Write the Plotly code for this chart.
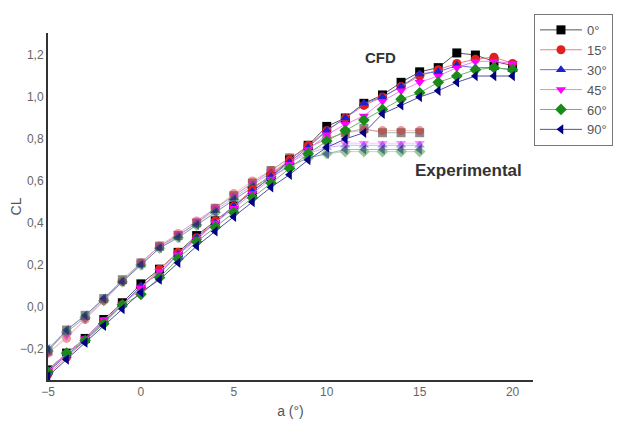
import plotly.graph_objects as go

alpha_cfd = list(range(-5, 21))
alpha_exp = list(range(-5, 16))

labels = ["0°", "15°", "30°", "45°", "60°", "90°"]
colors = ["#000000", "#e02020", "#2020d0", "#ff00ff", "#1a8a1a", "#000080"]
line_colors = ["#555555", "#e88080", "#7070d8", "#f080f0", "#70b070", "#5050a0"]
symbols = ["square", "circle", "triangle-up", "triangle-down", "diamond", "triangle-left"]

cfd_0 = [-0.30, -0.22, -0.15, -0.06, 0.02, 0.11, 0.18, 0.26, 0.34, 0.41, 0.48, 0.55, 0.62, 0.70, 0.77, 0.86, 0.90, 0.97, 1.01, 1.07, 1.12, 1.14, 1.21, 1.20, 1.17, 1.15]
cfd_15 = [-0.32, -0.24, -0.16, -0.07, 0.01, 0.09, 0.18, 0.26, 0.33, 0.41, 0.48, 0.56, 0.63, 0.70, 0.77, 0.84, 0.90, 0.96, 1.00, 1.05, 1.10, 1.13, 1.16, 1.18, 1.19, 1.16]
cfd_30 = [-0.31, -0.23, -0.16, -0.07, 0.01, 0.10, 0.16, 0.25, 0.33, 0.40, 0.48, 0.55, 0.62, 0.69, 0.76, 0.84, 0.90, 0.97, 1.00, 1.05, 1.11, 1.12, 1.15, 1.14, 1.14, 1.13]
cfd_45 = [-0.30, -0.22, -0.15, -0.06, 0.01, 0.09, 0.17, 0.25, 0.32, 0.40, 0.47, 0.54, 0.61, 0.68, 0.75, 0.82, 0.87, 0.91, 0.98, 1.03, 1.07, 1.10, 1.14, 1.17, 1.17, 1.16]
cfd_60 = [-0.31, -0.22, -0.16, -0.08, 0.01, 0.06, 0.14, 0.23, 0.31, 0.38, 0.45, 0.52, 0.59, 0.66, 0.73, 0.79, 0.84, 0.89, 0.94, 0.99, 1.02, 1.07, 1.10, 1.13, 1.14, 1.13]
cfd_90 = [-0.33, -0.25, -0.17, -0.09, -0.01, 0.07, 0.13, 0.21, 0.29, 0.36, 0.43, 0.50, 0.57, 0.63, 0.70, 0.76, 0.80, 0.83, 0.92, 0.96, 1.00, 1.03, 1.07, 1.10, 1.10, 1.10]

exp_0 = [-0.21, -0.11, -0.04, 0.04, 0.13, 0.21, 0.29, 0.34, 0.40, 0.47, 0.53, 0.59, 0.65, 0.71, 0.76, 0.80, 0.83, 0.85, 0.83, 0.83, 0.83]
exp_15 = [-0.22, -0.15, -0.06, 0.03, 0.12, 0.21, 0.29, 0.35, 0.41, 0.47, 0.54, 0.60, 0.65, 0.71, 0.76, 0.80, 0.83, 0.84, 0.84, 0.84, 0.84]
exp_30 = [-0.20, -0.12, -0.05, 0.04, 0.12, 0.20, 0.28, 0.34, 0.40, 0.46, 0.52, 0.58, 0.64, 0.69, 0.73, 0.76, 0.77, 0.77, 0.77, 0.77, 0.77]
exp_45 = [-0.22, -0.14, -0.06, 0.03, 0.12, 0.21, 0.29, 0.35, 0.41, 0.47, 0.53, 0.59, 0.64, 0.70, 0.74, 0.77, 0.78, 0.78, 0.78, 0.78, 0.78]
exp_60 = [-0.21, -0.12, -0.05, 0.03, 0.12, 0.20, 0.28, 0.33, 0.39, 0.45, 0.51, 0.57, 0.62, 0.67, 0.71, 0.73, 0.74, 0.74, 0.74, 0.74, 0.74]
exp_90 = [-0.20, -0.11, -0.04, 0.04, 0.12, 0.20, 0.28, 0.33, 0.39, 0.45, 0.51, 0.57, 0.62, 0.67, 0.71, 0.73, 0.75, 0.75, 0.75, 0.75, 0.75]

cfd = [cfd_0, cfd_15, cfd_30, cfd_45, cfd_60, cfd_90]
exp = [exp_0, exp_15, exp_30, exp_45, exp_60, exp_90]

x_ticks = [-5, 0, 5, 10, 15, 20]
y_ticks = [-0.2, 0.0, 0.2, 0.4, 0.6, 0.8, 1.0, 1.2]

fig = go.Figure()

for i in range(6):
    fig.add_trace(go.Scatter(
        x=alpha_exp, y=exp[i], mode="lines+markers", showlegend=False,
        opacity=0.45,
        line=dict(color=line_colors[i], width=1),
        marker=dict(symbol=symbols[i], color=colors[i], size=9),
    ))

for i in range(6):
    fig.add_trace(go.Scatter(
        x=alpha_cfd, y=cfd[i], mode="lines+markers", name=labels[i],
        line=dict(color=line_colors[i], width=1),
        marker=dict(symbol=symbols[i], color=colors[i], size=9),
    ))

fig.update_layout(
    width=625, height=429,
    margin=dict(l=40, r=100, t=25, b=57, autoexpand=False),
    plot_bgcolor="white", paper_bgcolor="white",
    separators=",.",
    font=dict(family="Liberation Sans, Arial, sans-serif", color="#555555", size=12),
    showlegend=True,
    legend=dict(
        x=1.002, y=1.055, xanchor="left", yanchor="top",
        bordercolor="#777777", borderwidth=1, bgcolor="white",
        font=dict(size=13, color="#555555"),
        tracegroupgap=0, itemwidth=42,
    ),
    xaxis=dict(
        range=[-5, 21.1], tickvals=x_ticks, ticks="", showgrid=False, zeroline=False,
        showline=True, linecolor="#333333", linewidth=2, automargin=False,
        tickfont=dict(size=12, color="#666666"),
        title=dict(text="a (°)", font=dict(size=14, color="#555555"), standoff=8),
    ),
    yaxis=dict(
        range=[-0.348, 1.305], tickvals=y_ticks, tickformat=".1f", ticks="",
        showgrid=False, zeroline=False, automargin=False,
        showline=True, linecolor="#333333", linewidth=2,
        tickfont=dict(size=12, color="#666666"),
        title=dict(text="CL", font=dict(size=14, color="#555555"), standoff=10),
    ),
    annotations=[
        dict(text="<b>CFD</b>", x=0.685, y=0.928, xref="paper", yref="paper",
             xanchor="center", yanchor="middle",
             showarrow=False, font=dict(size=15, color="#333333")),
        dict(text="<b>Experimental</b>", x=0.866, y=0.605, xref="paper", yref="paper",
             xanchor="center", yanchor="middle",
             showarrow=False, font=dict(size=17, color="#333333")),
    ],
)

fig.write_html("out.html")
